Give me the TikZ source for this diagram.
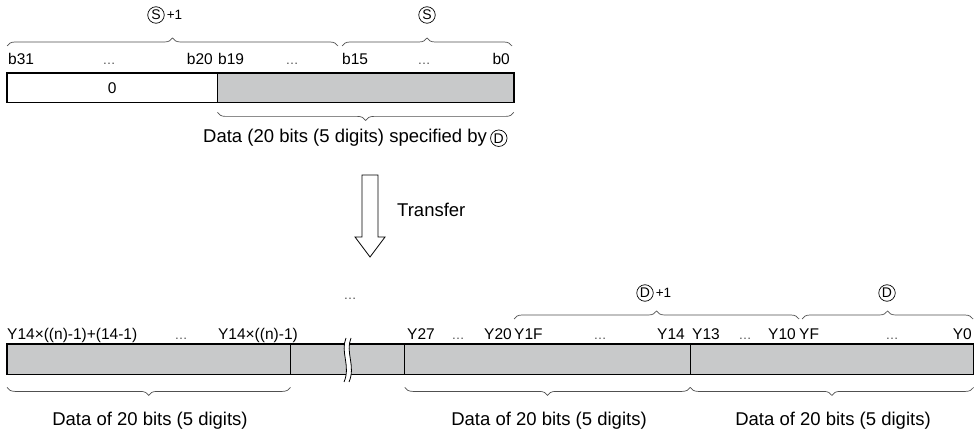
\documentclass[tikz,border=0pt]{standalone}
\usepackage{fontspec}
\setmainfont{Liberation Sans}
\usetikzlibrary{positioning,calc,decorations.pathreplacing}

\definecolor{cellgray}{HTML}{C8C9CA}
\definecolor{bracegray}{HTML}{505050}

\tikzset{
    lbl/.style={font=\fontsize{15.5}{17}\selectfont, inner sep=0pt},
    dots/.style={font=\fontsize{13}{14}\selectfont, text=black!70, inner sep=0pt, anchor=base},
    desc/.style={font=\fontsize{18.5}{20}\selectfont, inner sep=0pt},
    circ/.style={draw, circle, line width=0.7pt, inner sep=0pt, minimum size=16.5pt, font=\fontsize{14}{14}\selectfont},
    plusone/.style={font=\fontsize{13.5}{14}\selectfont, inner sep=0pt},
    cell/.style={fill=cellgray, minimum height=30pt, inner sep=0pt, anchor=north west},
    frame/.style={line width=1.4pt},
    divider/.style={line width=0.9pt},
    brc/.style={decorate, decoration={brace, amplitude=8pt}, draw=bracegray, line width=0.7pt},
}

\begin{document}
\begin{tikzpicture}[x=1pt, y=-1pt]
    \useasboundingbox (0,0) rectangle (974,430);

    % Source: S+1 and S
    \node[cell, fill=white, minimum width=210pt, minimum height=29pt, font=\fontsize{15.5}{17}\selectfont] (hiword) at (7,73) {0};
    \node[cell, minimum width=296pt, minimum height=29pt] (loword) at (hiword.north east) {};
    \draw[divider] (hiword.north east) -- (hiword.south east);
    \draw[frame] (hiword.north west) rectangle (loword.south east);

    \node[lbl, anchor=base west] (b31) at (8,65) {b31};
    \node[dots] (dA) at (109,65) {…};
    \node[lbl, anchor=base east] (b20) at (213,65) {b20};
    \node[lbl, anchor=base west] (b19) at (218,65) {b19};
    \node[dots] (dB) at (292,65) {…};
    \node[lbl, anchor=base west] (b15) at (342,65) {b15};
    \node[dots] (dC) at (424,65) {…};
    \node[lbl, anchor=base east] (b0) at (510,65) {b0};

    \coordinate (sHiL) at (7,46);
    \coordinate (sHiR) at (338,46);
    \coordinate (sLoL) at (342,46);
    \coordinate (sLoR) at (512,46);
    \draw[brc] (sHiL) -- (sHiR);
    \draw[brc] (sLoL) -- (sLoR);

    \node[circ] (sHi) at (156,15) {S};
    \node[plusone, right=2pt of sHi] (sHiPlus) {+1};
    \node[circ] (sLo) at (427,15) {S};

    % Data part below the source
    \draw[brc] ([yshift=-10pt]loword.south east) -- ([yshift=-10pt]loword.south west);
    \node[desc, anchor=base west] (srcData) at (203,143) {Data (20 bits (5 digits) specified by};
    \node[circ, right=3pt of srcData.east] (srcD) {D};

    % Transfer arrow
    \draw[line width=0.8pt, fill=white] (362,175) -- (378,175) -- (378,237) -- (385,237) -- (370,257)
        -- (355,237) -- (362,237) -- cycle;
    \node[desc, anchor=base west] (transfer) at (397,217) {Transfer};

    % Destination: Y outputs
    \node[dots] (dTop) at (350,299) {…};

    \node[cell, minimum width=283pt] (cellN) at (7,344) {};
    \node[cell, minimum width=114pt] (cellMid) at (cellN.north east) {};
    \node[cell, minimum width=285pt] (cellD1) at (cellMid.north east) {};
    \node[cell, minimum width=283pt] (cellD0) at (cellD1.north east) {};
    \draw[divider] (cellN.north east) -- (cellN.south east);
    \draw[divider] (cellD1.north west) -- (cellD1.south west);
    \draw[divider] (cellD1.north east) -- (cellD1.south east);
    \draw[frame] (cellN.north west) rectangle (cellD0.south east);

    % break mark
    \fill[white] (346,338) .. controls (340,352) and (351,366) .. (344,382) -- (349,382)
        .. controls (356,366) and (345,352) .. (351,338) -- cycle;
    \draw[line width=0.8pt] (346,338) .. controls (340,352) and (351,366) .. (344,382);
    \draw[line width=0.8pt] (351,338) .. controls (345,352) and (356,366) .. (349,382);

    \node[lbl, anchor=base west] (yTopN) at (7,339) {Y14×((n)-1)+(14-1)};
    \node[dots] (dN) at (181,339) {…};
    \node[lbl, anchor=base east] (yLowN) at (298,339) {Y14×((n)-1)};
    \node[lbl, anchor=base west] (y27) at (407,339) {Y27};
    \node[dots] (dD) at (458,339) {…};
    \node[lbl, anchor=base east] (y20) at (512,339) {Y20};
    \node[lbl, anchor=base west] (y1F) at (514,339) {Y1F};
    \node[dots] (dE) at (600,339) {…};
    \node[lbl, anchor=base east] (y14) at (685,339) {Y14};
    \node[lbl, anchor=base west] (y13) at (692,339) {Y13};
    \node[dots] (dF) at (745,339) {…};
    \node[lbl, anchor=base east] (y10) at (796,339) {Y10};
    \node[lbl, anchor=base west] (yF) at (799,339) {YF};
    \node[dots] (dG) at (892,339) {…};
    \node[lbl, anchor=base east] (y0) at (972,339) {Y0};

    \coordinate (dHiL) at (514,319);
    \coordinate (dHiR) at (799,319);
    \coordinate (dLoL) at (802,319);
    \coordinate (dLoR) at (973,319);
    \draw[brc] (dHiL) -- (dHiR);
    \draw[brc] (dLoL) -- (dLoR);

    \node[circ] (dHi) at (645,293) {D};
    \node[plusone, right=2pt of dHi] (dHiPlus) {+1};
    \node[circ] (dLo) at (887,293) {D};

    % 20-bit groups
    \draw[brc] ([yshift=-13pt]cellN.south east) -- ([yshift=-13pt]cellN.south west);
    \draw[brc] ([yshift=-13pt]cellD1.south east) -- ([yshift=-13pt]cellD1.south west);
    \draw[brc] ([yshift=-13pt]cellD0.south east) -- ([yshift=-13pt]cellD0.south west);

    \node[desc, anchor=base] (dataN) at (150,425) {Data of 20 bits (5 digits)};
    \node[desc, anchor=base] (dataD1) at (549,425) {Data of 20 bits (5 digits)};
    \node[desc, anchor=base] (dataD0) at (833,425) {Data of 20 bits (5 digits)};
\end{tikzpicture}
\end{document}
